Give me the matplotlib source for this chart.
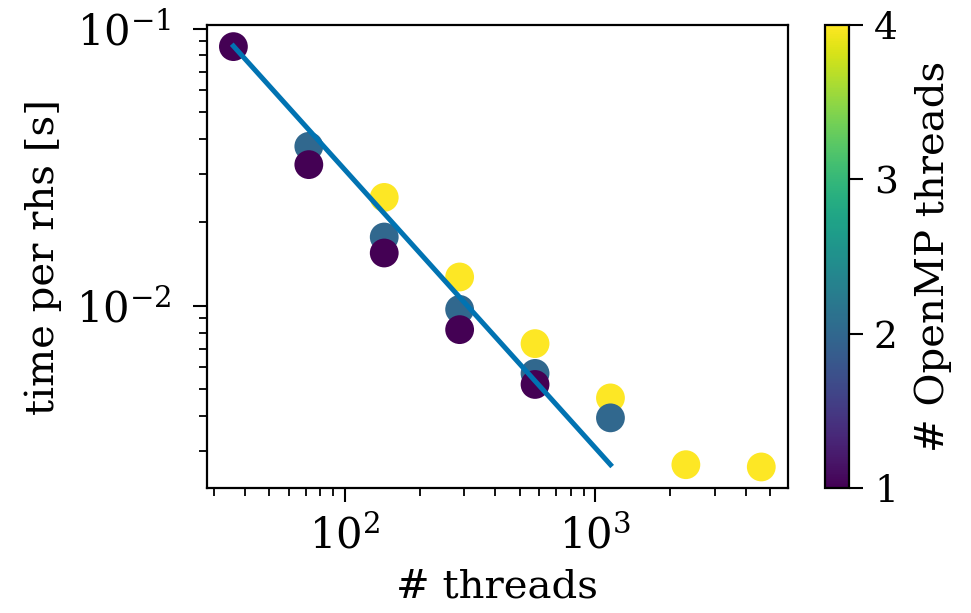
import matplotlib
matplotlib.use("Agg")
import matplotlib.pyplot as plt
import numpy as np

# total threads, time per rhs [s], OpenMP threads per rank
n_threads = [36, 72, 72, 144, 144, 144, 288, 288, 288,
             576, 576, 576, 1152, 1152, 2304, 4608]
t_rhs = [0.0861, 0.0376, 0.0323, 0.0246, 0.0177, 0.0155, 0.0127, 0.0097, 0.0082,
         0.0073, 0.0057, 0.0052, 0.00465, 0.00394, 0.00267, 0.00262]
omp = [1, 2, 1, 4, 2, 1, 4, 2, 1, 4, 2, 1, 4, 2, 4, 4]

# ideal scaling line
line_x = [36, 1152]
line_y = [0.0865, 0.00267]

plt.rcParams["font.family"] = "DejaVu Serif"
plt.rcParams["mathtext.fontset"] = "stix"
plt.rcParams["font.size"] = 29

fig = plt.figure(figsize=(9.71, 6.13), dpi=100)
ax = fig.add_axes([0.2132, 0.2039, 0.598, 0.7553])
cax = fig.add_axes([0.8496, 0.2039, 0.0247, 0.7553])

sc = ax.scatter(n_threads, t_rhs, c=omp, cmap="viridis", vmin=1, vmax=4, s=430,
                linewidths=0, zorder=2)
ax.plot(line_x, line_y, color="#0173b2", lw=3.6, zorder=3)
ax.set_xscale("log")
ax.set_yscale("log")
ax.set_xlabel("# threads", labelpad=8)
ax.set_ylabel("time per rhs [s]", labelpad=10)

for a in (ax, cax):
    for s in a.spines.values():
        s.set_linewidth(1.6)
ax.tick_params(which="major", length=10, width=1.5, labelsize=30)
ax.tick_params(axis="x", which="major", pad=10)
ax.tick_params(axis="y", which="major", pad=16)
ax.tick_params(which="minor", length=6, width=1.3)

cb = fig.colorbar(sc, cax=cax, ticks=[1, 2, 3, 4])
cb.set_label("# OpenMP threads", labelpad=12)
cax.tick_params(length=10, width=1.5, pad=8, labelsize=27)
cb.outline.set_linewidth(1.6)

fig.savefig("out.png", dpi=100)
